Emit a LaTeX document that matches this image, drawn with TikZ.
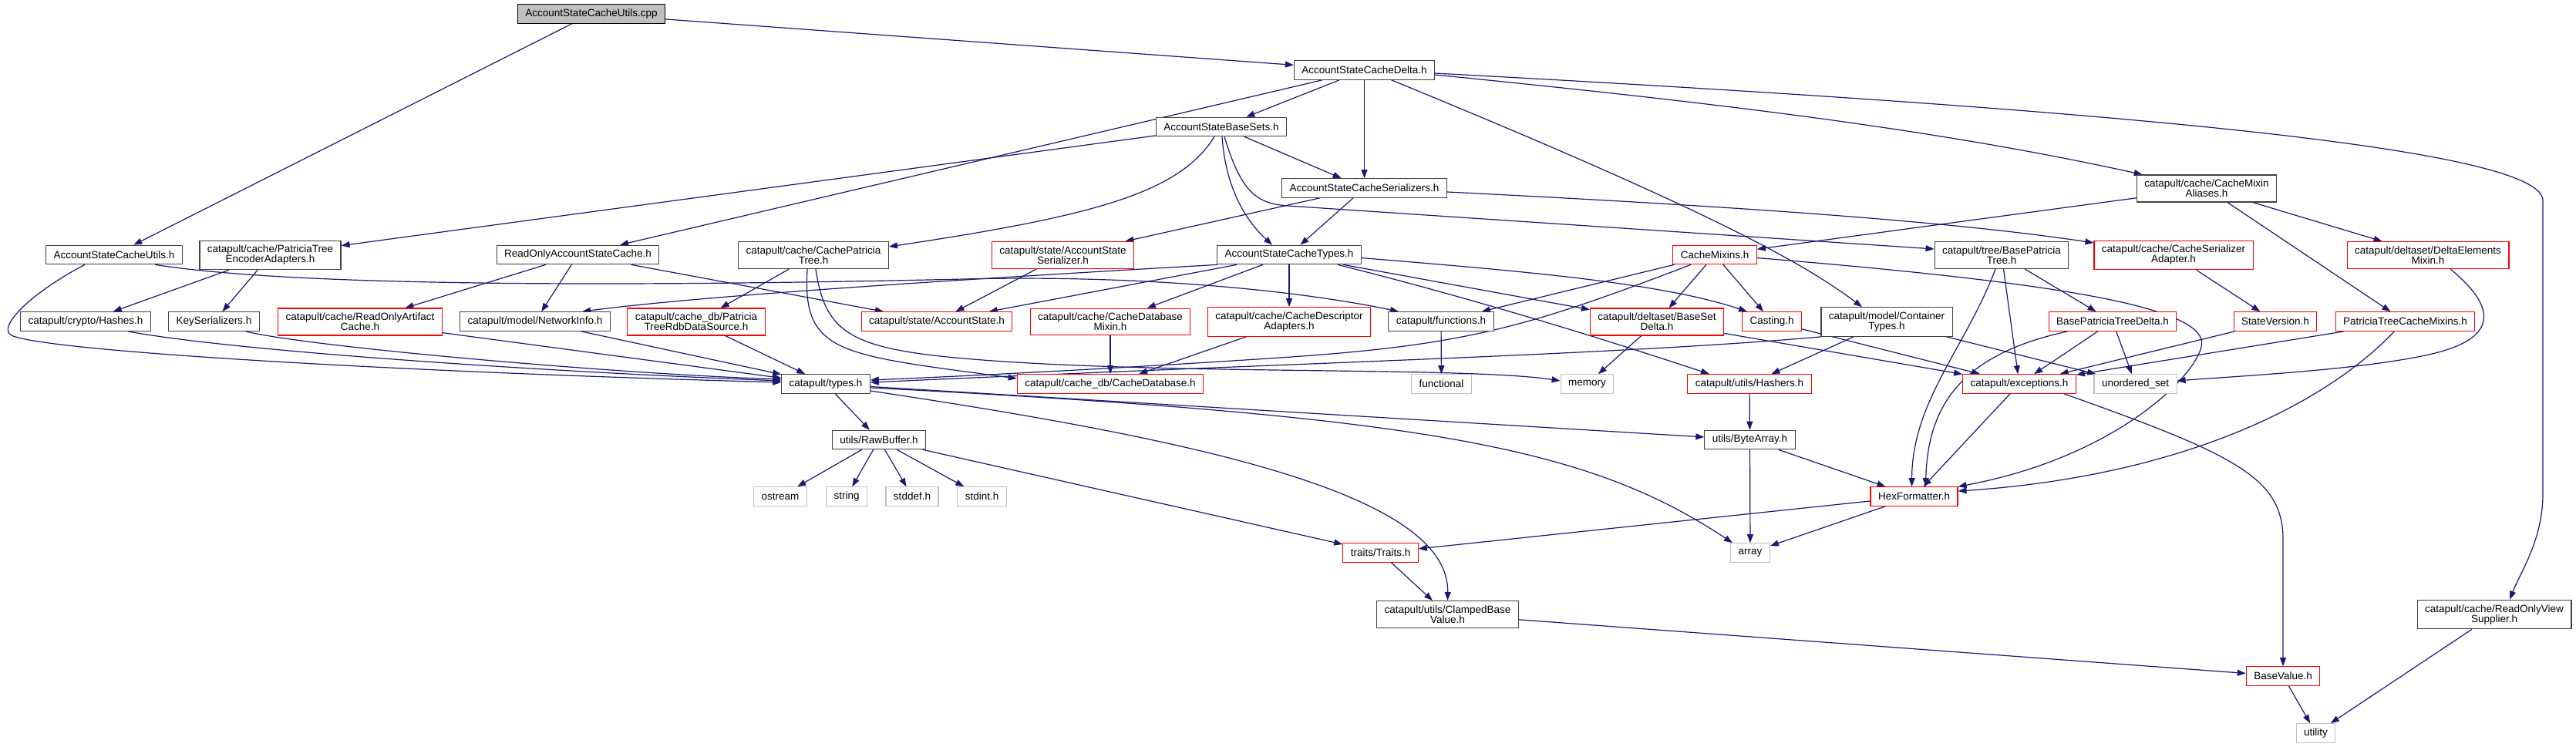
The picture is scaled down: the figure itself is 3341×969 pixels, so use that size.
\documentclass[tikz,border=0pt]{standalone}
\usepackage{fontspec}
\setmainfont{Liberation Sans}
\usetikzlibrary{arrows.meta, backgrounds}

\definecolor{linkblue}{HTML}{191970}
\definecolor{sysgray}{HTML}{BFBFBF}
\definecolor{boxgray}{HTML}{404040}

\begin{document}
\begin{tikzpicture}[
    x=1pt, y=-1pt,
    incbox/.style={rectangle, draw=boxgray, fill=white, line width=1.1pt, font=\fontsize{13.5}{13}\selectfont, align=center, inner xsep=10pt, inner ysep=6pt, minimum height=24.5pt},
    redbox/.style={incbox, draw=red},
    sysbox/.style={incbox, draw=sysgray},
    rootbox/.style={incbox, draw=black, fill=sysgray},
    arrow/.style={line width=1.2pt, draw=linkblue, -{Triangle[length=11pt,width=8pt]}}
]
\useasboundingbox (0,0) rectangle (3341,969);

% top of the include tree
\node (cpp) [rootbox] at (767,18) {AccountStateCacheUtils.cpp};
\node (delta) [incbox] at (1769.5,91) {AccountStateCacheDelta.h};
\node (basesets) [incbox] at (1584,164.5) {AccountStateBaseSets.h};
\node (aliases) [incbox] at (2862,244.5) {catapult/cache/CacheMixin\\Aliases.h};
\node (serializers) [incbox] at (1769.5,244) {AccountStateCacheSerializers.h};

% second level
\node (utilsh) [incbox] at (148,330.5) {AccountStateCacheUtils.h};
\node (encoder) [incbox] at (350.5,331) {catapult/cache/PatriciaTree\\EncoderAdapters.h};
\node (readonly) [incbox] at (749.5,330.5) {ReadOnlyAccountStateCache.h};
\node (cachetree) [incbox] at (1055,331) {catapult/cache/CachePatricia\\Tree.h};
\node (stateser) [redbox] at (1378.5,331) {catapult/state/AccountState\\Serializer.h};
\node (types) [incbox] at (1672,330.5) {AccountStateCacheTypes.h};
\node (mixins) [redbox] at (2224,330.5) {CacheMixins.h};
\node (basetree) [incbox] at (2596,331) {catapult/tree/BasePatricia\\Tree.h};
\node (seradapter) [redbox] at (2819,331) {catapult/cache/CacheSerializer\\Adapter.h};
\node (deltamixin) [redbox] at (3149,331) {catapult/deltaset/DeltaElements\\Mixin.h};

% third level
\node (hashes) [incbox] at (111,417) {catapult/crypto/Hashes.h};
\node (keyser) [incbox] at (277.5,417) {KeySerializers.h};
\node (artifact) [redbox] at (467,417.5) {catapult/cache/ReadOnlyArtifact\\Cache.h};
\node (netinfo) [incbox] at (694,417) {catapult/model/NetworkInfo.h};
\node (rdbsource) [redbox] at (903,417.5) {catapult/cache\_db/Patricia\\TreeRdbDataSource.h};
\node (acctstate) [redbox] at (1215,417) {catapult/state/AccountState.h};
\node (dbmixin) [redbox] at (1440,417.5) {catapult/cache/CacheDatabase\\Mixin.h};
\node (descadapt) [redbox] at (1672,417.5) {catapult/cache/CacheDescriptor\\Adapters.h};
\node (functions) [incbox] at (1869,417) {catapult/functions.h};
\node (setdelta) [redbox] at (2149,417.5) {catapult/deltaset/BaseSet\\Delta.h};
\node (casting) [redbox] at (2298,417) {Casting.h};
\node (container) [incbox] at (2447,417.5) {catapult/model/Container\\Types.h};
\node (treedelta) [redbox] at (2740,417) {BasePatriciaTreeDelta.h};
\node (stateversion) [redbox] at (2951,417) {StateVersion.h};
\node (treemixins) [redbox] at (3119.5,417) {PatriciaTreeCacheMixins.h};

% low level headers
\node (typesh) [incbox] at (1071,498) {catapult/types.h};
\node (cachedb) [redbox] at (1440,498) {catapult/cache\_db/CacheDatabase.h};
\node (functional) [sysbox] at (1869.5,498) {functional};
\node (memory) [sysbox] at (2058.5,498) {memory};
\node (hashers) [redbox] at (2269,498) {catapult/utils/Hashers.h};
\node (exceptions) [redbox] at (2619,498) {catapult/exceptions.h};
\node (uset) [sysbox] at (2769.5,498) {unordered\_set};
\node (rawbuffer) [incbox] at (1140,570.5) {utils/RawBuffer.h};
\node (bytearray) [incbox] at (2269.5,570.5) {utils/ByteArray.h};
\node (ostream) [sysbox] at (1012,644) {ostream};
\node (string) [sysbox] at (1098,644) {string};
\node (stddef) [sysbox] at (1183,644) {stddef.h};
\node (stdint) [sysbox] at (1273.5,644) {stdint.h};
\node (hexfmt) [redbox] at (2482.5,644) {HexFormatter.h};
\node (traits) [redbox] at (1790.5,717) {traits/Traits.h};
\node (array) [sysbox] at (2270,717) {array};
\node (clamped) [incbox] at (1877.5,797) {catapult/utils/ClampedBase\\Value.h};
\node (viewsupplier) [incbox] at (3235,797) {catapult/cache/ReadOnlyView\\Supplier.h};
\node (basevalue) [redbox] at (2961,877) {BaseValue.h};
\node (utility) [sysbox] at (3003.5,951) {utility};

\begin{scope}[on background layer]
\fill[white] (0,0) rectangle (3341,969);

% straight includes
\draw [arrow] (cpp) -- (utilsh);
\draw [arrow] (cpp) -- (delta);
\draw [arrow] (delta) -- (basesets);
\draw [arrow] (delta) -- (serializers);
\draw [arrow] (delta) -- (readonly);
\draw [arrow] (basesets) -- (encoder);
\draw [arrow] (basesets) -- (serializers);
\draw [arrow] (serializers) -- (types);
\draw [arrow] (serializers) -- (stateser);
\draw [arrow] (aliases) -- (mixins);
\draw [arrow] (aliases) -- (deltamixin);
\draw [arrow] (aliases) -- (treemixins);
\draw [arrow] (encoder) -- (hashes);
\draw [arrow] (encoder) -- (keyser);
\draw [arrow] (readonly) -- (artifact);
\draw [arrow] (readonly) -- (netinfo);
\draw [arrow] (readonly) -- (acctstate);
\draw [arrow] (cachetree) -- (rdbsource);
\draw [arrow] (stateser) -- (acctstate);
\draw [arrow] (types) -- (acctstate);
\draw [arrow] (types) -- (dbmixin);
\draw [arrow] (types) -- (descadapt);
\draw [arrow] (types) -- (setdelta);
\draw [arrow] (mixins) -- (functions);
\draw [arrow] (mixins) -- (setdelta);
\draw [arrow] (mixins) -- (casting);
\draw [arrow] (basetree) -- (exceptions);
\draw [arrow] (basetree) -- (treedelta);
\draw [arrow] (seradapter) -- (stateversion);
\draw [arrow] (artifact) -- (typesh);
\draw [arrow] (netinfo) -- (typesh);
\draw [arrow] (rdbsource) -- (typesh);
\draw [arrow] (container) -- (hashers);
\draw [arrow] (container) -- (uset);
\draw [arrow] (setdelta) -- (memory);
\draw [arrow] (setdelta) -- (exceptions);
\draw [arrow] (casting) -- (exceptions);
\draw [arrow] (treedelta) -- (exceptions);
\draw [arrow] (treedelta) -- (uset);
\draw [arrow] (stateversion) -- (exceptions);
\draw [arrow] (treemixins) -- (exceptions);
\draw [arrow] (functions) -- (functional);
\draw [arrow] (hashers) -- (bytearray);
\draw [arrow] (dbmixin) -- (cachedb);
\draw [arrow] (descadapt) -- (cachedb);
\draw [arrow] (typesh) -- (rawbuffer);
\draw [arrow] (typesh) -- (bytearray);
\draw [arrow] (rawbuffer) -- (ostream);
\draw [arrow] (rawbuffer) -- (string);
\draw [arrow] (rawbuffer) -- (stddef);
\draw [arrow] (rawbuffer) -- (stdint);
\draw [arrow] (rawbuffer) -- (traits);
\draw [arrow] (bytearray) -- (array);
\draw [arrow] (bytearray) -- (hexfmt);
\draw [arrow] (hexfmt) -- (array);
\draw [arrow] (hexfmt) -- (traits);
\draw [arrow] (exceptions) -- (hexfmt);
\draw [arrow] (traits) -- (clamped);
\draw [arrow] (clamped) -- (basevalue);
\draw [arrow] (basevalue) -- (utility);
\draw [arrow] (viewsupplier) -- (utility);

% bent includes
\draw [arrow] ([xshift=35pt]delta.south) .. controls (2205,268) and (2335,338) .. ([xshift=-32pt]container.north);
\draw [arrow] ([yshift=-6pt]delta.east) .. controls (2200,131) and (2500,165) .. ([xshift=8pt]aliases.north west);
\draw [arrow] ([yshift=-4pt]delta.east) .. controls (2700,140) and (3298,190) .. (3298,260) -- (3298,640) .. controls (3298,700) and (3270,740) .. ([xshift=20pt]viewsupplier.north);
\draw [arrow] ([xshift=-9pt]basesets.south) .. controls (1530,250) and (1420,280) .. ([yshift=11pt]cachetree.east);
\draw [arrow] ([xshift=1pt]basesets.south) .. controls (1590,250) and (1620,290) .. ([xshift=-22pt]types.north);
\draw [arrow] ([xshift=4pt]basesets.south) .. controls (1610,250) and (1630,264) .. (1670,267) -- ([yshift=8pt]basetree.west);
\draw [arrow] ([yshift=-5pt]serializers.east) .. controls (2300,270) and (2550,290) .. ([yshift=16pt]seradapter.west);
\draw [arrow] ([xshift=-38pt]utilsh.south) .. controls (40,380) and (-5,425) .. (15,435) .. controls (55,455) and (500,482) .. ([yshift=2pt]typesh.west);
\draw [arrow] ([xshift=53pt]utilsh.south) .. controls (400,375) and (900,370) .. (1250,362) .. controls (1500,356) and (1700,380) .. ([xshift=-55pt]functions.north);
\draw [arrow] ([xshift=-93pt]types.south) .. controls (1200,365) and (900,385) .. ([xshift=61pt]netinfo.north);
\draw [arrow] ([xshift=-8pt]cachetree.south) .. controls (1040,460) and (1090,460) .. ([yshift=7pt]cachedb.west);
\draw [arrow] ([xshift=3pt]cachetree.south) .. controls (1070,430) and (1100,452) .. (1250,465) .. controls (1500,487) and (1900,475) .. ([yshift=4pt]memory.west);
\draw [arrow] ([yshift=-4pt]types.east) .. controls (1950,350) and (2150,365) .. ([xshift=-32pt]casting.north);
\draw [arrow] ([xshift=63pt]types.south) .. controls (1900,385) and (2050,430) .. ([xshift=-52pt]hashers.north);
\draw [arrow] ([xshift=-31pt]mixins.south) .. controls (1980,425) and (1900,448) .. (1660,464) .. controls (1450,478) and (1250,488) .. ([yshift=5pt]typesh.east);
\draw [arrow] ([yshift=-4pt]mixins.east) .. controls (2650,365) and (2840,395) .. (2855,440) .. controls (2865,470) and (2760,590) .. (hexfmt.north east);
\draw [arrow] ([xshift=-8pt]basetree.south) .. controls (2550,450) and (2480,520) .. ([xshift=-3pt]hexfmt.north);
\draw [arrow] ([xshift=-58pt]treedelta.south) .. controls (2540,460) and (2500,530) .. ([xshift=15pt]hexfmt.north);
\draw [arrow] ([xshift=-14pt]treemixins.south) .. controls (3000,540) and (2800,620) .. ([yshift=7pt]hexfmt.east);
\draw [arrow] ([xshift=29pt]deltamixin.south) .. controls (3240,400) and (3240,440) .. (3150,460) .. controls (3060,480) and (2900,488) .. ([yshift=4pt]uset.east);
\draw [arrow] ([xshift=55pt]hashes.south) .. controls (300,455) and (700,482) .. ([yshift=4pt]typesh.west);
\draw [arrow] ([xshift=41pt]keyser.south) .. controls (400,450) and (800,485) .. ([yshift=6pt]typesh.west);
\draw [arrow] ([xshift=-85pt]container.south) .. controls (2100,460) and (1700,470) .. ([yshift=2pt]typesh.east);
\draw [arrow] ([yshift=-5pt]typesh.east) .. controls (1850,540) and (2060,580) .. ([xshift=-23pt]array.north);
\draw [arrow] ([yshift=-9pt]typesh.east) .. controls (1550,570) and (1880,640) .. (clamped.north);
\draw [arrow] ([xshift=58pt]exceptions.south) .. controls (2900,590) and (2961,620) .. (2961,700) -- (basevalue.north);
\end{scope}

\end{tikzpicture}
\end{document}
